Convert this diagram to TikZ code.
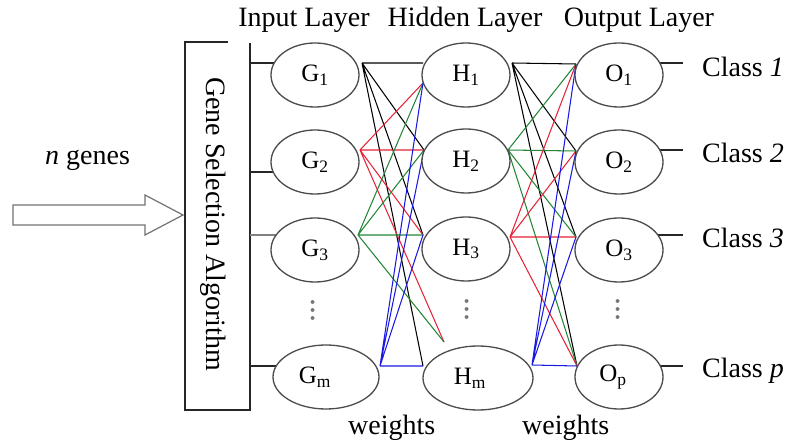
\documentclass[tikz,border=0pt]{standalone}
\usepackage{fontspec}
\setmainfont{Liberation Serif}
\usetikzlibrary{shapes.geometric}
\definecolor{wred}{RGB}{230,35,55}
\definecolor{wgreen}{RGB}{35,135,55}
\definecolor{wblue}{RGB}{25,25,225}

\begin{document}
\begin{tikzpicture}[x=1pt,y=-1pt,
  unit/.style={draw=black!70,line width=1.3pt,fill=white,ellipse,minimum width=88pt,minimum height=64pt,inner sep=0pt,font=\fontsize{25}{26}\selectfont},
  lbl/.style={font=\fontsize{28}{30}\selectfont,inner sep=0pt},
  vdotsbox/.style={font=\fontsize{32}{32}\selectfont,inner sep=0pt,rotate=90,text=black!55},
  wire/.style={line width=1.05pt},
  lead/.style={line width=1.2pt,black!85},
  hollow/.style={draw=black!55,line width=1.2pt,fill=white}]

  \fill[white] (0,0) rectangle (788,446);

  \coordinate (b1) at (250,63);
  \coordinate (b2) at (250,172);
  \coordinate (b3) at (250,235);
  \coordinate (bm) at (250,366);
  \coordinate (g1l) at (285,63);
  \coordinate (g2l) at (285,172);
  \coordinate (g3l) at (285,235);
  \coordinate (gml) at (290,366);

  \coordinate (g1r) at (362,63);
  \coordinate (g2r) at (360,150);
  \coordinate (g3r) at (358,235);
  \coordinate (gmr) at (380,366);

  \coordinate (h1t) at (423,63);
  \coordinate (h1l) at (423,83);
  \coordinate (h2l) at (424,150);
  \coordinate (h3l) at (423,235);
  \coordinate (hml) at (423,366);
  \coordinate (hmt) at (444,342);

  \coordinate (h1r) at (512,63);
  \coordinate (h2r) at (508,150);
  \coordinate (h3r) at (510,237);
  \coordinate (hmr) at (532,365);

  \coordinate (o1l) at (576,64);
  \coordinate (o2l) at (576,151);
  \coordinate (o3l) at (576,237);
  \coordinate (opl) at (577,366);

  \coordinate (o1r) at (650,63);
  \coordinate (o2r) at (650,150);
  \coordinate (o3r) at (650,235);
  \coordinate (opr) at (650,366);
  \coordinate (c1e) at (683,63);
  \coordinate (c2e) at (683,150);
  \coordinate (c3e) at (683,235);
  \coordinate (cpe) at (683,366);

  \node[lbl,anchor=base] (tin) at (304,27) {Input Layer};
  \node[lbl,anchor=base] (thid) at (465,27) {Hidden Layer};
  \node[lbl,anchor=base] (tout) at (639,27) {Output Layer};

  \draw[hollow] (13,205) -- (145,205) -- (145,195) -- (183,215) -- (145,235) -- (145,225) -- (13,225) -- cycle;
  \node[lbl,anchor=base west] (ngenes) at (45,165) {\textit{n} genes};

  \draw[lead] (228,42) -- (185,42) -- (185,410) -- (250,410) -- (250,43);
  \node[lbl,rotate=-90] (gsa) at (213,224) {Gene Selection Algorithm};

  \draw[lead] (b1) -- (g1l);
  \draw[lead] (b2) -- (g2l);
  \draw[lead,black!50] (b3) -- (g3l);
  \draw[lead] (bm) -- (gml);

  \draw[wire] (g1r) -- (h1t) (g1r) -- (h2l) (g1r) -- (h3l) (g1r) -- (hml);
  \draw[wire,wred] (g2r) -- (h1l) (g2r) -- (h2l) (g2r) -- (h3l) (g2r) -- (hmt);
  \draw[wire,wgreen] (g3r) -- (h1l) (g3r) -- (h2l) (g3r) -- (h3l) (g3r) -- (hmt);
  \draw[wire,wblue] (gmr) -- (h1l) (gmr) -- (h2l) (gmr) -- (h3l) (gmr) -- (hml);

  \draw[wire] (h1r) -- (o1l) (h1r) -- (o2l) (h1r) -- (o3l) (h1r) -- (opl);
  \draw[wire,wgreen] (h2r) -- (o1l) (h2r) -- (o2l) (h2r) -- (o3l) (h2r) -- (opl);
  \draw[wire,wred] (h3r) -- (o1l) (h3r) -- (o2l) (h3r) -- (o3l) (h3r) -- (opl);
  \draw[wire,wblue] (hmr) -- (o1l) (hmr) -- (o2l) (hmr) -- (o3l) (hmr) -- (opl);

  \draw[lead] (o1r) -- (c1e);
  \draw[lead] (o2r) -- (c2e);
  \draw[lead] (o3r) -- (c3e);
  \draw[lead] (opr) -- (cpe);

  \node[unit] (g1) at (315,75) {G\textsubscript{1}};
  \node[unit] (g2) at (315,162) {G\textsubscript{2}};
  \node[unit] (g3) at (315,250) {G\textsubscript{3}};
  \node[unit,minimum width=106pt] (gm) at (326,377) {G\textsubscript{m}\hspace*{22pt}};
  \node[vdotsbox] (gdots) at (313,311) {...};

  \node[unit] (h1) at (466,75) {H\textsubscript{1}};
  \node[unit] (h2) at (466,161) {H\textsubscript{2}};
  \node[unit] (h3) at (466,249) {H\textsubscript{3}};
  \node[unit,minimum width=110pt] (hm) at (478,378) {H\textsubscript{m}\hspace*{16pt}};
  \node[vdotsbox] (hdots) at (467,310) {...};

  \node[unit] (o1) at (619,75) {O\textsubscript{1}};
  \node[unit] (o2) at (619,162) {O\textsubscript{2}};
  \node[unit] (o3) at (619,250) {O\textsubscript{3}};
  \node[unit] (op) at (619,377) {O\textsubscript{p}\hspace*{12pt}};
  \node[vdotsbox] (odots) at (618,310) {...};

  \node[lbl,anchor=base west] (cl1) at (702,77) {Class \textit{1}};
  \node[lbl,anchor=base west] (cl2) at (702,163) {Class \textit{2}};
  \node[lbl,anchor=base west] (cl3) at (702,248) {Class \textit{3}};
  \node[lbl,anchor=base west] (clp) at (702,378) {Class \textit{p}};

  \node[lbl,anchor=base west] (wleft) at (348,435) {weights};
  \node[lbl,anchor=base west] (wright) at (522,435) {weights};

\end{tikzpicture}
\end{document}
